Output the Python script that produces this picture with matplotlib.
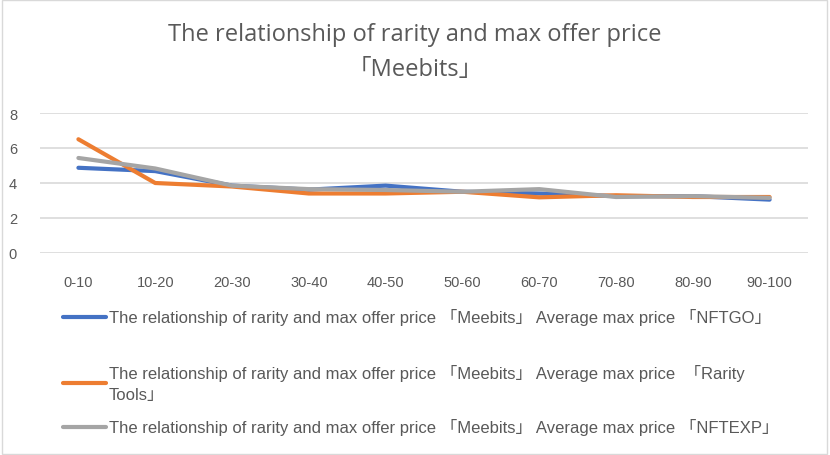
import matplotlib.pyplot as plt
from matplotlib.patches import Rectangle

plt.rcParams['font.family'] = ['Liberation Sans', 'Noto Sans CJK JP']

categories = ["0-10", "10-20", "20-30", "30-40", "40-50", "50-60", "60-70", "70-80", "80-90", "90-100"]
nftgo = [4.87, 4.68, 3.85, 3.62, 3.85, 3.5, 3.4, 3.25, 3.25, 3.05]
rarity_tools = [6.5, 4.0, 3.8, 3.4, 3.4, 3.5, 3.18, 3.3, 3.2, 3.2]
nftexp = [5.43, 4.83, 3.85, 3.65, 3.6, 3.5, 3.65, 3.2, 3.25, 3.15]

base = "The relationship of rarity and max offer price 「Meebits」 Average max price "
labels = [base + "「NFTGO」", base + " 「Rarity\nTools」", base + "「NFTEXP」"]
colors = ["#4472C4", "#ED7D31", "#A5A5A5"]
txt = "#595959"

fig = plt.figure(figsize=(8.3, 4.56), dpi=100)
ax = fig.add_axes([40/830, 1 - 254/456, 768/830, 140/456])

x = range(len(categories))
lines = []
for vals, c, lab in zip([nftgo, rarity_tools, nftexp], colors, labels):
    ln, = ax.plot(x, vals, color=c, lw=3, solid_capstyle='round', solid_joinstyle='round', label=lab)
    lines.append(ln)

ax.set_xlim(-0.5, len(categories) - 0.5)
ax.set_ylim(0, 8)
ax.set_yticks([0, 2, 4, 6, 8])
ax.set_xticks(list(x))
ax.set_xticklabels(categories)
ax.grid(axis='y', color='#D9D9D9', lw=1.2)
ax.set_axisbelow(True)
for s in ax.spines.values():
    s.set_visible(False)
ax.tick_params(length=0, colors=txt, labelsize=10.5)
ax.tick_params(axis='x', pad=16)
ax.tick_params(axis='y', pad=16.5)

fig.text(0.5, 1 - 35/456, "The relationship of rarity and max offer price", ha='center', va='center',
         fontsize=17, color=txt, family=['Open Sans', 'Noto Sans CJK JP'])
fig.text(0.5, 1 - 70/456, "「Meebits」", ha='center', va='center', fontsize=17, color=txt,
         family=['Open Sans', 'Noto Sans CJK JP'])

# one legend per row so the uneven row spacing of the original can be kept
row_y = [318, 384, 428]
for ln, yy in zip(lines, row_y):
    leg = fig.legend(handles=[ln], loc='center left', bbox_to_anchor=(63/830, 1 - yy/456), frameon=False,
                     fontsize=12, labelcolor=txt, handlelength=2.6, handletextpad=0.15,
                     borderpad=0, borderaxespad=0)
    leg.get_texts()[0].set_linespacing(1.5)

fig.patches.append(Rectangle((0.002, 0.003), 0.994, 0.994, transform=fig.transFigure,
                             fill=False, edgecolor='#D9D9D9', lw=1))

fig.savefig("out.png", dpi=100)
